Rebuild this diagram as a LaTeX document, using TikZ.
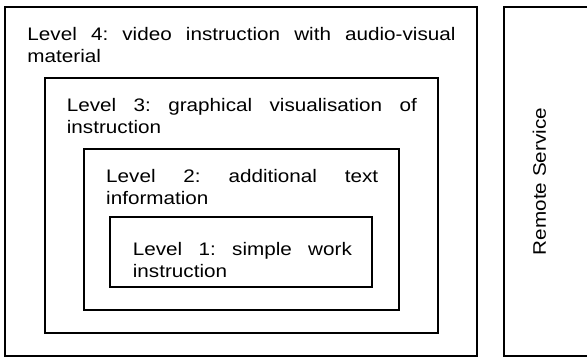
\documentclass[tikz,border=0pt]{standalone}
\usepackage{fontspec}
\setmainfont{Liberation Sans}[FakeStretch=1.14]
\frenchspacing
\begin{document}
\begin{tikzpicture}[x=1bp,y=-1bp,
  box/.style={draw=black,line width=1.1bp},
  lvl/.style={anchor=north west,inner sep=0pt,align=justify,
    font=\fontsize{18.2}{22.7}\selectfont},
  remote/.style={rotate=90,inner sep=0pt,font=\fontsize{18.2}{22.7}\selectfont}]
\useasboundingbox (0,0) rectangle (587,358);
\fill[white] (0,0) rectangle (587,358);
\draw[box] (5,7) rectangle (477,356);
\draw[box] (45,78) rectangle (438,333);
\draw[box] (84,149) rectangle (399,310);
\draw[box] (110,217) rectangle (372,287);
\draw[box] (504,7) rectangle (592,356);
\node[lvl,text width=428bp] (t4) at (27.3,27.0) {Level 4: video instruction with audio-visual\linebreak material};
\node[lvl,text width=350bp] (t3) at (66.7,98.0) {Level 3: graphical visualisation of\linebreak instruction};
\node[lvl,text width=272bp] (t2) at (106,168.7) {Level 2: additional text\linebreak information};
\node[lvl,text width=219bp] (t1) at (132.7,242.0) {Level 1: simple work\linebreak instruction};
\node[remote] (rs) at (539.5,181.5) {Remote Service};
\end{tikzpicture}
\end{document}
